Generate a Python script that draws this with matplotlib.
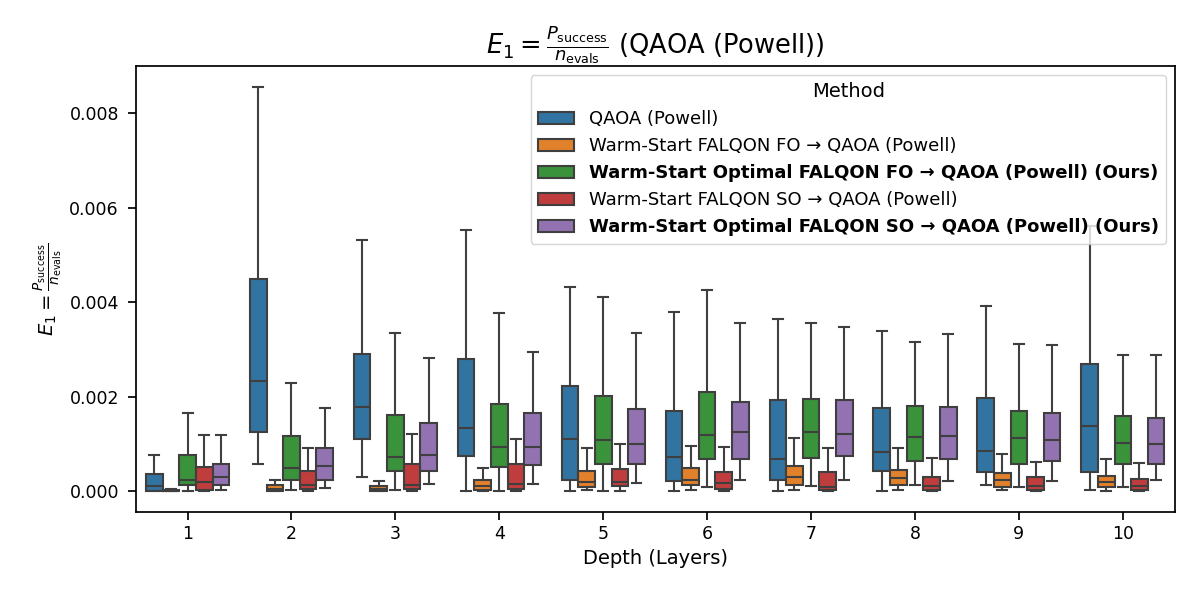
import matplotlib
matplotlib.use("Agg")
import matplotlib.pyplot as plt
from matplotlib.patches import Patch

depths = [1, 2, 3, 4, 5, 6, 7, 8, 9, 10]
methods = [
    "QAOA (Powell)",
    "Warm-Start FALQON FO → QAOA (Powell)",
    "Warm-Start Optimal FALQON FO → QAOA (Powell) (Ours)",
    "Warm-Start FALQON SO → QAOA (Powell)",
    "Warm-Start Optimal FALQON SO → QAOA (Powell) (Ours)",
]
colors = ["#3274a1", "#e1812c", "#3a923a", "#c03d3e", "#9372b2"]
bold = [False, False, True, False, True]

# box statistics per method: lists over depths 1..10 (whislo, q1, med, q3, whishi)
qaoa_whislo = [0.0, 0.00057, 0.0003, 0.0, 0.0, 0.00001, 0.0, 0.0, 0.00013, 0.00004]
qaoa_q1 = [0.00002, 0.00125, 0.00111, 0.00075, 0.00025, 0.00022, 0.00025, 0.00043, 0.00042, 0.00042]
qaoa_med = [0.00011, 0.00234, 0.00178, 0.00134, 0.00111, 0.00072, 0.00069, 0.00084, 0.00085, 0.00138]
qaoa_q3 = [0.00036, 0.00449, 0.00291, 0.0028, 0.00222, 0.00171, 0.00194, 0.00177, 0.00198, 0.00269]
qaoa_whishi = [0.00078, 0.00855, 0.00532, 0.00553, 0.00433, 0.00379, 0.00365, 0.0034, 0.00392, 0.0056]

wsfo_whislo = [0.0, 0.0, 0.0, 0.0, 0.00003, 0.00003, 0.00003, 0.00003, 0.00003, 0.00002]
wsfo_q1 = [0.0, 0.0, 0.00001, 0.00003, 0.0001, 0.00013, 0.00013, 0.00013, 0.0001, 0.00009]
wsfo_med = [0.00001, 0.00006, 0.00006, 0.00011, 0.0002, 0.00024, 0.00031, 0.00029, 0.00024, 0.0002]
wsfo_q3 = [0.00003, 0.00013, 0.00011, 0.00024, 0.00043, 0.0005, 0.00053, 0.00046, 0.00039, 0.00032]
wsfo_whishi = [0.00006, 0.00025, 0.00023, 0.0005, 0.00091, 0.00096, 0.00113, 0.00092, 0.0008, 0.00069]

wsofo_whislo = [0.0, 0.00003, 0.00004, 0.00001, 0.00001, 0.00009, 0.00011, 0.00013, 0.0001, 0.0001]
wsofo_q1 = [0.00013, 0.00024, 0.00044, 0.00052, 0.00057, 0.00069, 0.0007, 0.00065, 0.00058, 0.00058]
wsofo_med = [0.00025, 0.00049, 0.00072, 0.00094, 0.00108, 0.00119, 0.00125, 0.00115, 0.00112, 0.00103]
wsofo_q3 = [0.00076, 0.00118, 0.00162, 0.00184, 0.00201, 0.00211, 0.00196, 0.0018, 0.00169, 0.00159]
wsofo_whishi = [0.00165, 0.0023, 0.00335, 0.00377, 0.0041, 0.00425, 0.00356, 0.00316, 0.00312, 0.00289]

wsso_whislo = [0.0, 0.0, 0.0, 0.0, 0.0, 0.0, 0.0, 0.0, 0.0, 0.0]
wsso_q1 = [0.00004, 0.00006, 0.00006, 0.00006, 0.00011, 0.00006, 0.00003, 0.00003, 0.00003, 0.00003]
wsso_med = [0.0002, 0.00013, 0.00013, 0.00016, 0.0002, 0.00017, 0.00009, 0.00011, 0.00011, 0.00011]
wsso_q3 = [0.00052, 0.00043, 0.00059, 0.00059, 0.00048, 0.00042, 0.00041, 0.00031, 0.00031, 0.00027]
wsso_whishi = [0.00119, 0.00091, 0.00122, 0.00111, 0.00101, 0.00094, 0.00092, 0.0007, 0.00062, 0.0006]

wsoso_whislo = [0.00004, 0.00008, 0.00015, 0.00016, 0.00018, 0.00025, 0.00025, 0.00022, 0.00023, 0.00025]
wsoso_q1 = [0.00013, 0.00024, 0.00043, 0.00055, 0.00057, 0.00069, 0.00075, 0.00069, 0.00065, 0.00058]
wsoso_med = [0.0003, 0.00053, 0.00077, 0.00094, 0.00101, 0.00125, 0.00122, 0.00118, 0.00108, 0.00101]
wsoso_q3 = [0.00057, 0.00091, 0.00145, 0.00165, 0.00174, 0.00189, 0.00194, 0.00178, 0.00165, 0.00155]
wsoso_whishi = [0.0012, 0.00177, 0.00283, 0.00294, 0.00335, 0.00356, 0.00347, 0.00333, 0.00309, 0.00289]

series = [
    (qaoa_whislo, qaoa_q1, qaoa_med, qaoa_q3, qaoa_whishi),
    (wsfo_whislo, wsfo_q1, wsfo_med, wsfo_q3, wsfo_whishi),
    (wsofo_whislo, wsofo_q1, wsofo_med, wsofo_q3, wsofo_whishi),
    (wsso_whislo, wsso_q1, wsso_med, wsso_q3, wsso_whishi),
    (wsoso_whislo, wsoso_q1, wsoso_med, wsoso_q3, wsoso_whishi),
]

plt.rcParams.update({
    "font.family": "DejaVu Sans",
    "xtick.major.size": 6,
    "ytick.major.size": 6,
    "xtick.major.width": 1.25,
    "ytick.major.width": 1.25,
    "axes.linewidth": 1.25,
})

fig = plt.figure(figsize=(12, 6), dpi=100)
ax = fig.add_axes([0.113, 0.147, 0.866, 0.743])

n = len(methods)
total_w = 0.8
bw = total_w / n
line_c = "#3f3f3f"
for j, (lo, q1, med, q3, hi) in enumerate(series):
    stats = []
    for i in range(len(depths)):
        stats.append(dict(whislo=lo[i], q1=q1[i], med=med[i], q3=q3[i], whishi=hi[i], fliers=[]))
    pos = [i - total_w / 2 + bw * (j + 0.5) for i in range(len(depths))]
    ax.bxp(stats, positions=pos, widths=bw, patch_artist=True, showfliers=False,
           manage_ticks=False, capwidths=bw * 0.6,
           boxprops=dict(facecolor=colors[j], edgecolor=line_c, linewidth=1.5),
           medianprops=dict(color=line_c, linewidth=1.5),
           whiskerprops=dict(color=line_c, linewidth=1.5),
           capprops=dict(color=line_c, linewidth=1.5))

ax.set_xlim(-0.5, len(depths) - 0.5)
ax.set_xticks(range(len(depths)))
ax.set_xticklabels([str(d) for d in depths], fontsize=12.5)
ax.tick_params(axis="y", labelsize=12.5, pad=6)
ax.set_ylim(-0.00043, 0.00899)
ax.set_yticks([0.0, 0.002, 0.004, 0.006, 0.008])
ax.set_yticklabels(["0.000", "0.002", "0.004", "0.006", "0.008"])
ax.set_xlabel("Depth (Layers)", fontsize=14)
ax.set_ylabel(r"$E_1 = \frac{P_{\rm success}}{n_{\rm evals}}$", fontsize=14)
ax.set_title(r"$E_1 = \frac{P_{\rm success}}{n_{\rm evals}}$ (QAOA (Powell))", fontsize=18.5)

handles = [Patch(facecolor=colors[j], edgecolor=line_c, linewidth=1.5) for j in range(n)]
leg = ax.legend(handles, methods, title="Method", loc="upper right", fontsize=13,
                title_fontsize=14, framealpha=0.8)
for t, b in zip(leg.get_texts(), bold):
    if b:
        t.set_fontweight("bold")

fig.savefig("out.png", dpi=100)
